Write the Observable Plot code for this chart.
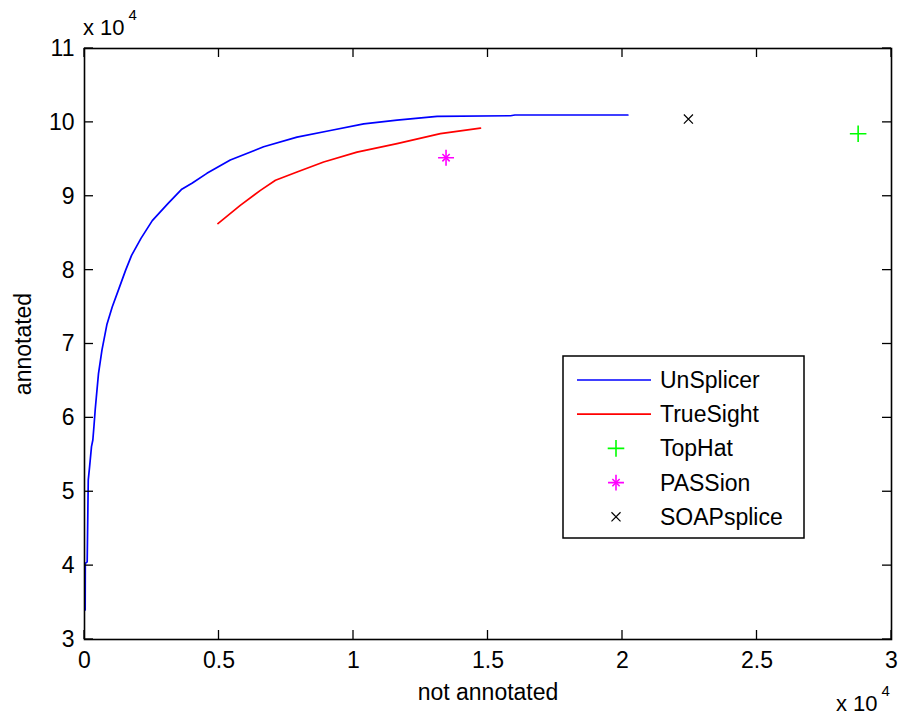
<!DOCTYPE html>
<html><head><meta charset="utf-8">
<script src="https://cdn.jsdelivr.net/npm/d3@7"></script>
<script src="https://cdn.jsdelivr.net/npm/@observablehq/plot@0.6"></script>
<style>html,body{margin:0;padding:0;background:#fff;} #chart{width:902px;height:717px;}</style>
</head><body><div id="chart"></div>
<script>
// ---- data (raw values; axes show them in units of 10^4) ----
const unsplicerX = [25, 30, 100, 140, 190, 260, 310, 350, 400, 440, 520, 650, 830, 1030, 1280, 1530, 1750, 2100, 2520, 3100, 3600, 4010, 4550, 5420, 6660, 7900, 9140, 10380, 11620, 13110, 15840, 16000, 20200];
const unsplicerY = [34000, 40300, 40500, 51600, 53400, 56100, 57000, 58800, 61200, 62800, 66000, 69200, 72600, 75000, 77500, 80000, 82000, 84300, 86700, 89000, 90900, 91800, 93100, 94900, 96700, 98000, 98900, 99800, 100300, 100800, 100900, 101000, 101000];
const truesightX = [4960, 5790, 6540, 7100, 7900, 8890, 10130, 11620, 13230, 14720];
const truesightY = [86300, 88770, 90800, 92160, 93280, 94630, 95980, 97120, 98470, 99230];
const tophatX = [28760];
const tophatY = [98470];
const passionX = [13440];
const passionY = [95220];
const soapspliceX = [22450];
const soapspliceY = [100450];

const xTicks = [0, 5000, 10000, 15000, 20000, 25000, 30000];
const yTicks = [30000, 40000, 50000, 60000, 70000, 80000, 90000, 100000, 110000];
const seriesNames = ["UnSplicer", "TrueSight", "TopHat", "PASSion", "SOAPsplice"];
const seriesColors = ["#0000ff", "#ff0000", "#00ff00", "#ff00ff", "#000000"];
const xLabel = "not annotated";
const yLabel = "annotated";
const exponentText = "x 10";
const exponentSup = "4";

(function () {
const toRows = (xs, ys) => xs.map((x, i) => ({x, y: ys[i]}));
const unsplicer = toRows(unsplicerX, unsplicerY);
const truesight = toRows(truesightX, truesightY);
const tophat = toRows(tophatX, tophatY);
const passion = toRows(passionX, passionY);
const soapsplice = toRows(soapspliceX, soapspliceY);

const fmt = d => String(d / 1e4);
const FONT = "'Liberation Sans', Arial, Helvetica, sans-serif";
const TICK = 9;

const plot = Plot.plot({
  width: 902, height: 717,
  marginTop: 48, marginRight: 11, marginBottom: 78, marginLeft: 84,
  style: {fontFamily: FONT, fontSize: "23px", color: "black", background: "white", overflow: "visible"},
  x: {domain: [0, 30000]},
  y: {domain: [30000, 110000]},
  marks: [
    Plot.axisX(xTicks, {anchor: "bottom", tickSize: 0, tickPadding: 12, tickFormat: fmt,
      label: xLabel, labelAnchor: "center", labelOffset: 60, labelArrow: false}),
    Plot.axisY(yTicks, {anchor: "left", tickSize: 0, tickPadding: 10, tickFormat: fmt,
      label: yLabel, labelAnchor: "center", labelOffset: 70, labelArrow: false}),
    Plot.line(unsplicer, {x: "x", y: "y", stroke: seriesColors[0], strokeWidth: 1.7}),
    Plot.line(truesight, {x: "x", y: "y", stroke: seriesColors[1], strokeWidth: 1.7}),
    Plot.dot(tophat, {x: "x", y: "y", symbol: "plus", stroke: seriesColors[2], fill: "none", r: 5.4, strokeWidth: 1.6}),
    Plot.dot(passion, {x: "x", y: "y", symbol: "plus", stroke: seriesColors[3], fill: "none", r: 5.2, strokeWidth: 1.6}),
    Plot.dot(passion, {x: "x", y: "y", symbol: "times", stroke: seriesColors[3], fill: "none", r: 3.4, strokeWidth: 1.6}),
    Plot.dot(soapsplice, {x: "x", y: "y", symbol: "times", stroke: seriesColors[4], fill: "none", r: 4.2, strokeWidth: 1.2}),
    Plot.frame({stroke: "black", strokeWidth: 1.6})
  ]
});

document.getElementById("chart").appendChild(plot);
const svg = d3.select(plot);

// inward tick marks on all four sides, positioned through Plot's own scales
const sx = plot.scale("x"), sy = plot.scale("y");
const xLeft = sx.apply(sx.domain[0]), xRight = sx.apply(sx.domain[1]);
const yBottom = sy.apply(sy.domain[0]), yTop = sy.apply(sy.domain[1]);
const tg = svg.append("g").attr("stroke", "black").attr("stroke-width", 1.3);
xTicks.forEach(v => {
  const px = sx.apply(v);
  tg.append("line").attr("x1", px).attr("x2", px).attr("y1", yBottom).attr("y2", yBottom - TICK);
  tg.append("line").attr("x1", px).attr("x2", px).attr("y1", yTop).attr("y2", yTop + TICK);
});
yTicks.forEach(v => {
  const py = sy.apply(v);
  tg.append("line").attr("y1", py).attr("y2", py).attr("x1", xLeft).attr("x2", xLeft + TICK);
  tg.append("line").attr("y1", py).attr("y2", py).attr("x1", xRight).attr("x2", xRight - TICK);
});

// exponent annotations (x 10^4)
function exponent(x, y) {
  const t = svg.append("text").attr("x", x).attr("y", y).attr("text-anchor", "start")
    .attr("font-family", FONT).attr("font-size", 22).attr("fill", "black");
  t.append("tspan").text(exponentText);
  t.append("tspan").attr("font-size", 15).attr("dx", 4).attr("dy", -15).text(exponentSup);
}
exponent(83, 35);
exponent(836, 711);

// legend
const lg = svg.append("g");
lg.append("rect").attr("x", 563).attr("y", 356).attr("width", 241).attr("height", 182)
  .attr("fill", "white").attr("stroke", "black").attr("stroke-width", 1.5);
const symbolPath = (type, r) => d3.symbol(type, Math.PI * r * r)();
seriesNames.forEach((name, i) => {
  const cy = 380 + i * 34.2;
  const c = seriesColors[i];
  if (i < 2) {
    lg.append("line").attr("x1", 577).attr("x2", 651).attr("y1", cy).attr("y2", cy)
      .attr("stroke", c).attr("stroke-width", 1.7);
  } else if (i === 2) {
    lg.append("path").attr("d", symbolPath(d3.symbolPlus, 5.4)).attr("transform", `translate(616,${cy})`)
      .attr("stroke", c).attr("fill", "none").attr("stroke-width", 1.6);
  } else if (i === 3) {
    lg.append("path").attr("d", symbolPath(d3.symbolPlus, 5.2)).attr("transform", `translate(616,${cy})`)
      .attr("stroke", c).attr("fill", "none").attr("stroke-width", 1.6);
    lg.append("path").attr("d", symbolPath(d3.symbolTimes, 3.4)).attr("transform", `translate(616,${cy})`)
      .attr("stroke", c).attr("fill", "none").attr("stroke-width", 1.6);
  } else {
    lg.append("path").attr("d", symbolPath(d3.symbolTimes, 4.2)).attr("transform", `translate(616,${cy})`)
      .attr("stroke", c).attr("fill", "none").attr("stroke-width", 1.2);
  }
  lg.append("text").attr("x", 660).attr("y", cy).attr("dy", "0.35em").attr("text-anchor", "start")
    .attr("font-family", FONT).attr("font-size", 23).attr("fill", "black").text(name);
});
})();
</script>
</body></html>
